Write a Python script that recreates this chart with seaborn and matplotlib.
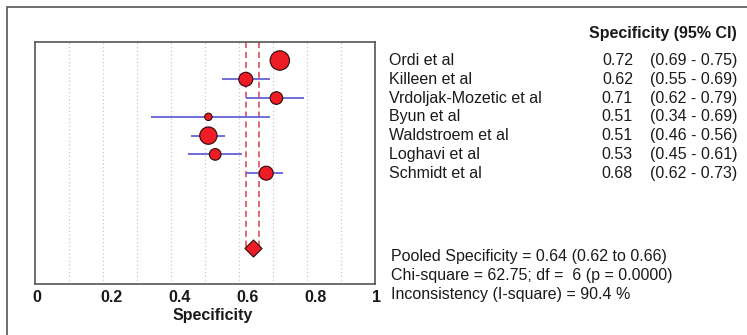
import matplotlib
matplotlib.use("Agg")
import matplotlib.pyplot as plt
import matplotlib.transforms as mtransforms
from matplotlib.patches import Rectangle
import pandas as pd
import seaborn as sns

# values
studies = ["Ordi et al", "Killeen et al", "Vrdoljak-Mozetic et al", "Byun et al",
           "Waldstroem et al", "Loghavi et al", "Schmidt et al"]
spec = [0.72, 0.62, 0.71, 0.51, 0.51, 0.53, 0.68]
ci_low = [0.69, 0.55, 0.62, 0.34, 0.46, 0.45, 0.62]
ci_high = [0.75, 0.69, 0.79, 0.69, 0.56, 0.61, 0.73]
weights = [94, 49, 40, 14, 75, 34, 49]   # relative marker area

pooled = 0.64
pooled_low, pooled_high = 0.62, 0.66
stats_lines = ["Pooled Specificity = 0.64 (0.62 to 0.66)",
               "Chi-square = 62.75; df =  6 (p = 0.0000)",
               "Inconsistency (I-square) = 90.4 %"]
xticks = [0, 0.2, 0.4, 0.6, 0.8, 1]
xtick_labels = ["0", "0.2", "0.4", "0.6", "0.8", "1"]

df = pd.DataFrame({"study": studies, "spec": spec, "lo": ci_low, "hi": ci_high,
                   "w": weights, "row": range(1, len(studies) + 1)})
pooled_row = 11

sns.set_style("white")
plt.rcParams["font.family"] = ["Liberation Sans", "DejaVu Sans"]

fig = plt.figure(figsize=(7.47, 3.35), dpi=100)
ax = fig.add_axes([35 / 747, 1 - 284 / 335, 340 / 747, 242.3 / 335])

# outer frame around the whole figure
fig.patches.append(Rectangle((7 / 747, -0.1), 1.2, 1 - 7 / 335 + 0.1,
                             transform=fig.transFigure, fill=False,
                             edgecolor="#555555", linewidth=1.2))

# vertical dotted grid
for g in [0.1, 0.2, 0.3, 0.4, 0.5, 0.6, 0.7, 0.8, 0.9]:
    ax.axvline(g, color="#c8c8c8", linestyle=(0, (1, 2)), linewidth=0.9, zorder=0)

# pooled CI dashed lines
ax.vlines([pooled_low, pooled_high], 0, pooled_row, color="#d6404e",
          linestyles=(0, (4, 2.5)), linewidth=1.1, zorder=1)

# confidence intervals
ax.hlines(df["row"], df["lo"], df["hi"], color="#6262d4", linewidth=1.3, zorder=2)

sns.scatterplot(data=df, x="spec", y="row", size="w", sizes=(28, 195),
                color="#ee1c24", edgecolor="#2a0a0a", linewidth=0.8,
                legend=False, ax=ax, zorder=3)

ax.scatter([pooled], [pooled_row], marker="D", s=75, color="#ee1c24",
           edgecolor="#2a0a0a", linewidth=0.8, zorder=3)

ax.set_xlim(0, 1)
ax.set_ylim(12.9, 0)
ax.set_yticks([])
ax.set_xticks(xticks)
ax.set_xticklabels(xtick_labels, fontsize=11.5, fontweight="bold", color="#1a1a1a")
ax.tick_params(axis="x", length=0, pad=4)
shift = mtransforms.ScaledTranslation(-3 / 100, 0, fig.dpi_scale_trans)
for lab in ax.get_xticklabels():
    lab.set_ha("left")
    lab.set_transform(lab.get_transform() + shift)
for sp in ax.spines.values():
    sp.set_color("#555555")
    sp.set_linewidth(1.2)

ax.set_xlabel("Specificity", fontsize=11.5, fontweight="bold", color="#1a1a1a")
ax.xaxis.set_label_coords(0.523, -0.128)
ax.xaxis.label.set_va("center")
ax.set_ylabel("")

# right-hand table
trans = mtransforms.blended_transform_factory(fig.transFigure, ax.transData)
fs = 11.5
ax.text(737 / 747, -0.46, "Specificity (95% CI)", transform=trans, ha="right",
        va="center", fontsize=fs, fontweight="bold", color="#1a1a1a", clip_on=False)
for r, name, v, lo, hi in zip(df["row"], studies, spec, ci_low, ci_high):
    ax.text(389 / 747, r, name, transform=trans, ha="left", va="center",
            fontsize=fs, color="#1a1a1a", clip_on=False)
    ax.text(633 / 747, r, f"{v:.2f}", transform=trans, ha="right", va="center",
            fontsize=fs, color="#1a1a1a", clip_on=False)
    ax.text(737 / 747, r, f"({lo:.2f} - {hi:.2f})", transform=trans, ha="right",
            va="center", fontsize=fs, color="#1a1a1a", clip_on=False)

for i, line in enumerate(stats_lines):
    ax.text(391 / 747, 11.46 + i * 1.01, line, transform=trans, ha="left",
            va="center", fontsize=fs, color="#1a1a1a", clip_on=False)

fig.savefig("out.png", dpi=100)
